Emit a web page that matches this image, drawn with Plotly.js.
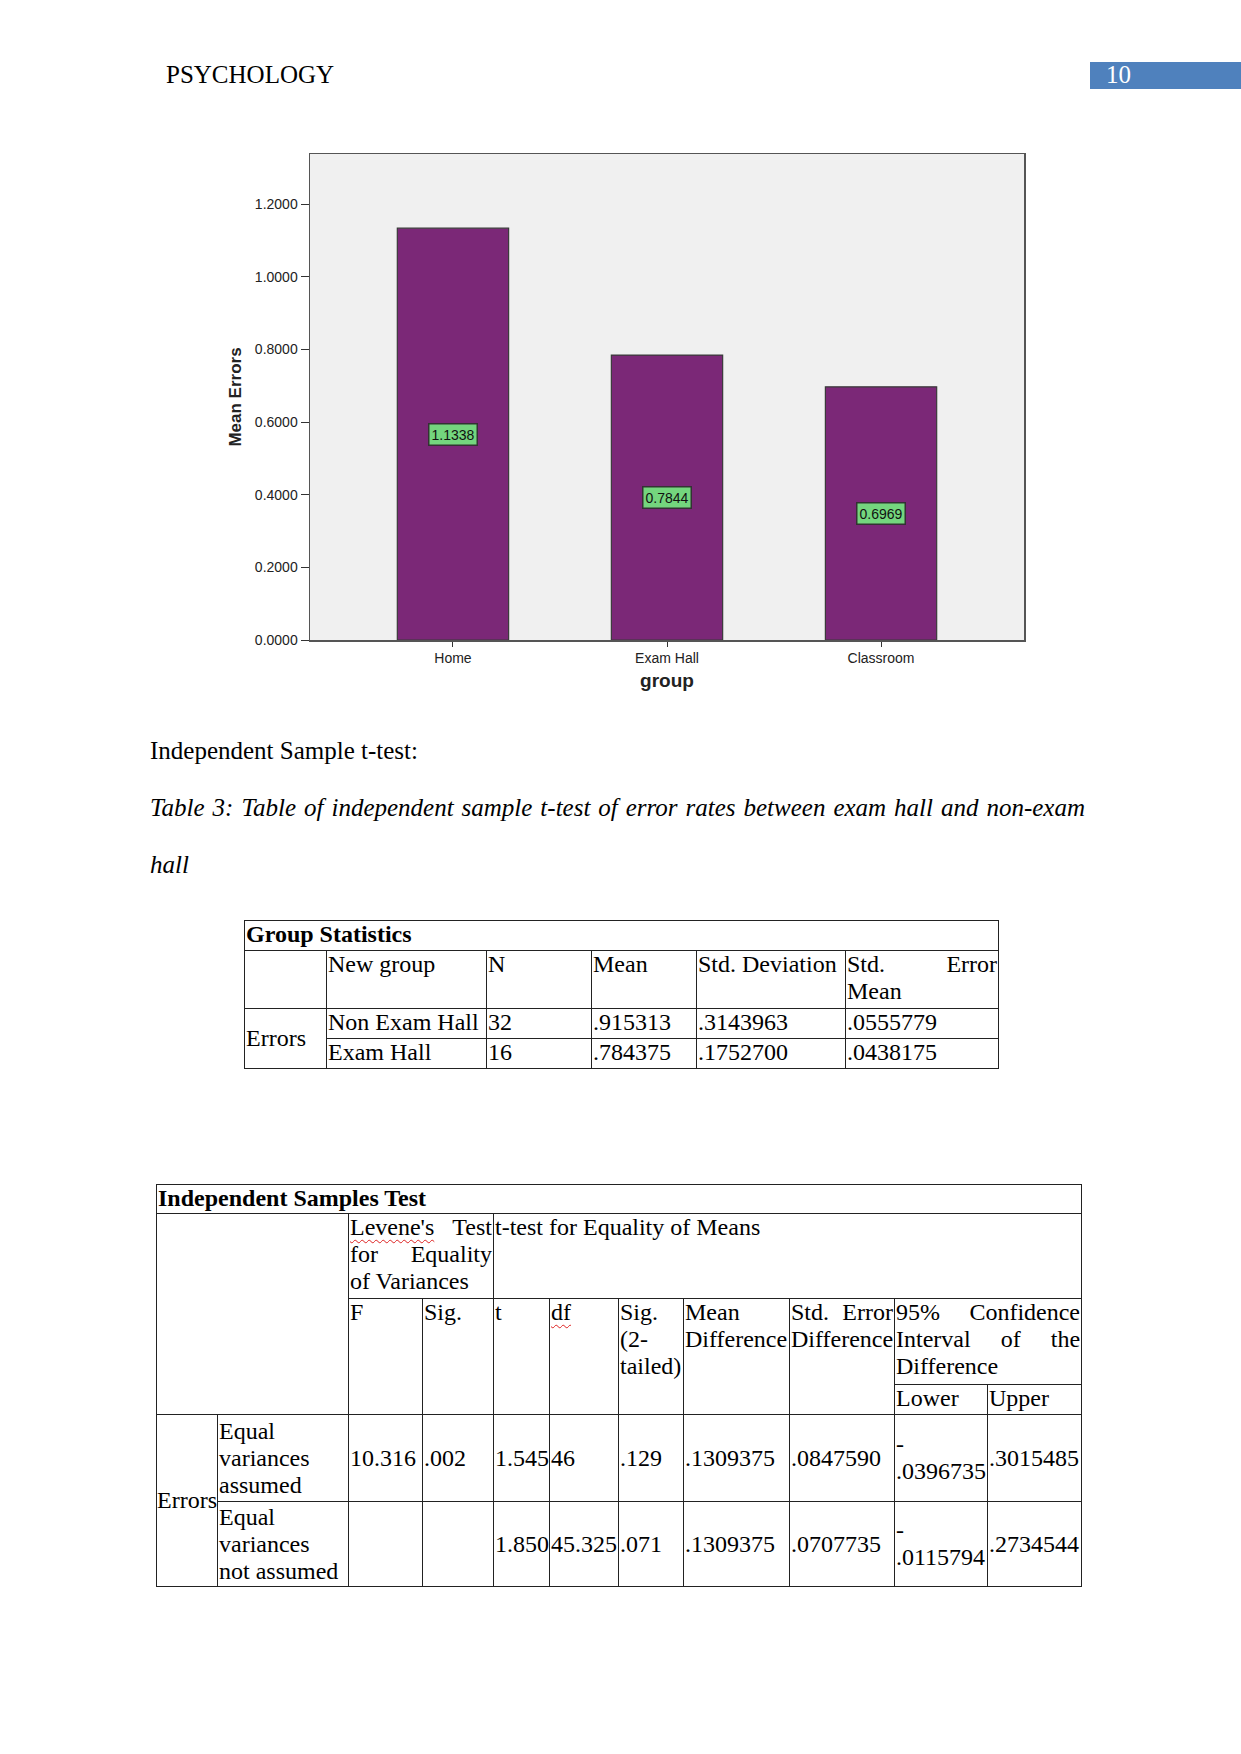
<!DOCTYPE html>
<html><head><meta charset="utf-8">
<script src="https://cdn.plot.ly/plotly-3.0.1.min.js"></script>
<style>
html,body{margin:0;padding:0;background:#fff;}
#page{position:relative;width:1241px;height:1754px;overflow:hidden;font-family:"Liberation Serif","Times New Roman",serif;color:#000;}
.abs{position:absolute;white-space:nowrap;}
#chart{position:absolute;left:0;top:0;width:1241px;height:720px;}
table{position:absolute;border-collapse:collapse;table-layout:fixed;font-family:"Liberation Serif","Times New Roman",serif;font-size:24px;line-height:27px;}
td{border:1.5px solid #222;padding:0 1px;vertical-align:top;white-space:nowrap;overflow:visible;}
td.mid{vertical-align:middle;}
.j{text-align:justify;text-align-last:justify;}
.wavy{text-decoration:underline wavy #d22;text-decoration-thickness:1px;text-underline-offset:4px;}
</style></head>
<body>
<div id="page">
  <div class="abs" id="hdr" style="left:166px;top:60px;font-size:25px;line-height:30px;"></div>
  <div class="abs" style="left:1090px;top:62px;width:151px;height:27px;background:#4f81bd;"></div>
  <div class="abs" id="pgno" style="left:1106px;top:60px;font-size:25px;line-height:30px;color:#fff;"></div>
  <div id="chart"></div>
  <div class="abs" id="p1" style="left:150px;top:736px;font-size:25px;line-height:30px;"></div>
  <div class="abs" id="p2a" style="left:150px;top:793px;width:935px;font-size:25px;line-height:30px;font-style:italic;text-align:justify;text-align-last:justify;"></div>
  <div class="abs" id="p2b" style="left:150px;top:850px;font-size:25px;line-height:30px;font-style:italic;"></div>
  <table id="gs" style="left:244px;top:920px;width:754px;"></table>
  <table id="ist" style="left:156px;top:1184px;width:925px;"></table>
</div>
<script>
// ---------- page text ----------
const headerText = "PSYCHOLOGY";
const pageNumber = "10";
const sectionHeading = "Independent Sample t-test:";
const captionLine1 = "Table 3: Table of independent sample t-test of error rates between exam hall and non-exam";
const captionLine2 = "hall";

// ---------- bar chart data ----------
const groups = ["Home", "Exam Hall", "Classroom"];
const meanErrors = [1.1338, 0.7844, 0.6969];
const yTicks = [0, 0.2, 0.4, 0.6, 0.8, 1.0, 1.2];
const yTitle = "Mean Errors";
const xTitle = "group";

// ---------- Group Statistics table ----------
const gsTitle = "Group Statistics";
const gsHeaders = [[""], ["New group"], ["N"], ["Mean"], ["Std. Deviation"], ["Std. Error", "Mean"]];
const gsRowLabel = "Errors";
const gsGroups = ["Non Exam Hall", "Exam Hall"];
const gsN = ["32", "16"];
const gsMean = [".915313", ".784375"];
const gsSD = [".3143963", ".1752700"];
const gsSE = [".0555779", ".0438175"];
const gsColWidths = [82, 160, 105, 105, 149, 153];
const gsRowHeights = [30, 58, 30, 30];

// ---------- Independent Samples Test table ----------
const istTitle = "Independent Samples Test";
const istLevene = ["Levene's Test", "for Equality", "of Variances"];
const istTtest = ["t-test for Equality of Means"];
const istSubHeaders = [["F"], ["Sig."], ["t"], ["df"], ["Sig.", "(2-", "tailed)"], ["Mean", "Difference"], ["Std. Error", "Difference"]];
const istCI = ["95% Confidence", "Interval of the", "Difference"];
const istCIParts = ["Lower", "Upper"];
const istRowLabel = "Errors";
const istCases = [["Equal", "variances", "assumed"], ["Equal", "variances", "not assumed"]];
const istF = ["10.316", ""];
const istSigF = [".002", ""];
const istT = ["1.545", "1.850"];
const istDf = ["46", "45.325"];
const istSig2 = [".129", ".071"];
const istMeanDiff = [".1309375", ".1309375"];
const istSEDiff = [".0847590", ".0707735"];
const istLower = ["-.0396735", "-.0115794"];
const istUpper = [".3015485", ".2734544"];
const istColWidths = [61, 131, 74, 71, 56, 69, 65, 106, 105, 93, 94];
const istRowHeights = [29, 85, 86, 30, 87, 85];
const spellFlagged = ["Levene's", "df"];

// ---------- helpers ----------
function esc(s){return s.replace(/&/g,"&amp;").replace(/</g,"&lt;");}
function word(w){return spellFlagged.includes(w) ? '<span class="wavy">'+esc(w)+'</span>' : esc(w);}
function lineHtml(l){return l.split(" ").map(word).join(" ");}
function lines(arr){
  return arr.map((l,i)=> i < arr.length-1 ? '<div class="j">'+lineHtml(l)+'</div>' : '<div>'+lineHtml(l)+'</div>').join("");
}
function numCell(v){
  if (v.startsWith("-")) return '<div>-</div><div>'+esc(v.slice(1))+'</div>';
  return esc(v);
}
function colgroup(ws){return '<colgroup>'+ws.map(w=>'<col style="width:'+w+'px">').join("")+'</colgroup>';}

document.getElementById("hdr").textContent = headerText;
document.getElementById("pgno").textContent = pageNumber;
document.getElementById("p1").textContent = sectionHeading;
document.getElementById("p2a").textContent = captionLine1;
document.getElementById("p2b").textContent = captionLine2;

// Group Statistics
(function(){
  let h = colgroup(gsColWidths);
  h += '<tr style="height:'+gsRowHeights[0]+'px"><td colspan="6"><b>'+gsTitle+'</b></td></tr>';
  h += '<tr style="height:'+gsRowHeights[1]+'px">'+gsHeaders.map(x=>'<td>'+lines(x)+'</td>').join("")+'</tr>';
  gsGroups.forEach((g,i)=>{
    h += '<tr style="height:'+gsRowHeights[2+i]+'px">';
    if (i===0) h += '<td class="mid" rowspan="2">'+gsRowLabel+'</td>';
    h += '<td>'+g+'</td><td>'+gsN[i]+'</td><td>'+gsMean[i]+'</td><td>'+gsSD[i]+'</td><td>'+gsSE[i]+'</td></tr>';
  });
  document.getElementById("gs").innerHTML = h;
})();

// Independent Samples Test
(function(){
  let h = colgroup(istColWidths);
  h += '<tr style="height:'+istRowHeights[0]+'px"><td colspan="11"><b>'+istTitle+'</b></td></tr>';
  h += '<tr style="height:'+istRowHeights[1]+'px"><td colspan="2" rowspan="3"></td><td colspan="2">'+lines(istLevene)+'</td><td colspan="7">'+lines(istTtest)+'</td></tr>';
  h += '<tr style="height:'+istRowHeights[2]+'px">'+istSubHeaders.map(x=>'<td rowspan="2">'+lines(x)+'</td>').join("")+'<td colspan="2">'+lines(istCI)+'</td></tr>';
  h += '<tr style="height:'+istRowHeights[3]+'px">'+istCIParts.map(x=>'<td>'+x+'</td>').join("")+'</tr>';
  istCases.forEach((c,i)=>{
    h += '<tr style="height:'+istRowHeights[4+i]+'px">';
    if (i===0) h += '<td class="mid" rowspan="2" style="padding:0">'+istRowLabel+'</td>';
    h += '<td class="mid">'+lines(c)+'</td>';
    [istF, istSigF, istT, istDf, istSig2, istMeanDiff, istSEDiff, istLower, istUpper].forEach(arr=>{
      h += '<td class="mid">'+numCell(arr[i])+'</td>';
    });
    h += '</tr>';
  });
  document.getElementById("ist").innerHTML = h;
})();

// Chart
const sans = "Liberation Sans, Arial, sans-serif";
const trace = {
  type: "bar", x: groups, y: meanErrors, width: 0.52,
  marker: {color: "#7b2877", line: {color: "#3a3a3a", width: 1.2}},
  hoverinfo: "skip"
};
const annotations = groups.map((g,i)=>({
  x: g, y: meanErrors[i]/2, xref: "x", yref: "y",
  text: meanErrors[i].toFixed(4), showarrow: false,
  bgcolor: "#74d67e", bordercolor: "#333", borderwidth: 1.5, borderpad: 2,
  font: {family: sans, size: 14, color: "#111"}
}));
const layout = {
  width: 1241, height: 720,
  margin: {l: 310, r: 217, t: 154, b: 80},
  paper_bgcolor: "rgba(0,0,0,0)", plot_bgcolor: "#f0f0f0",
  showlegend: false,
  xaxis: {
    type: "category", range: [-0.668, 2.668],
    showline: true, mirror: true, linecolor: "#555", linewidth: 1.5,
    ticks: "outside", ticklen: 5, tickcolor: "#333", showgrid: false, zeroline: false,
    tickfont: {family: sans, size: 14, color: "#222"},
    title: {text: xTitle, font: {family: sans, size: 19, color: "#222", weight: "bold"}, standoff: 8}
  },
  yaxis: {
    range: [0, 1.338], tickvals: yTicks, tickformat: ".4f",
    showline: true, mirror: true, linecolor: "#555", linewidth: 1.5,
    ticks: "outside", ticklen: 8, tickcolor: "#333", showgrid: false, zeroline: false,
    tickfont: {family: sans, size: 14, color: "#222"},
    title: {text: yTitle, font: {family: sans, size: 17, color: "#222", weight: "bold"}, standoff: 9}
  },
  annotations: annotations
};
Plotly.newPlot("chart", [trace], layout, {staticPlot: true, displayModeBar: false});
</script>
</body></html>
